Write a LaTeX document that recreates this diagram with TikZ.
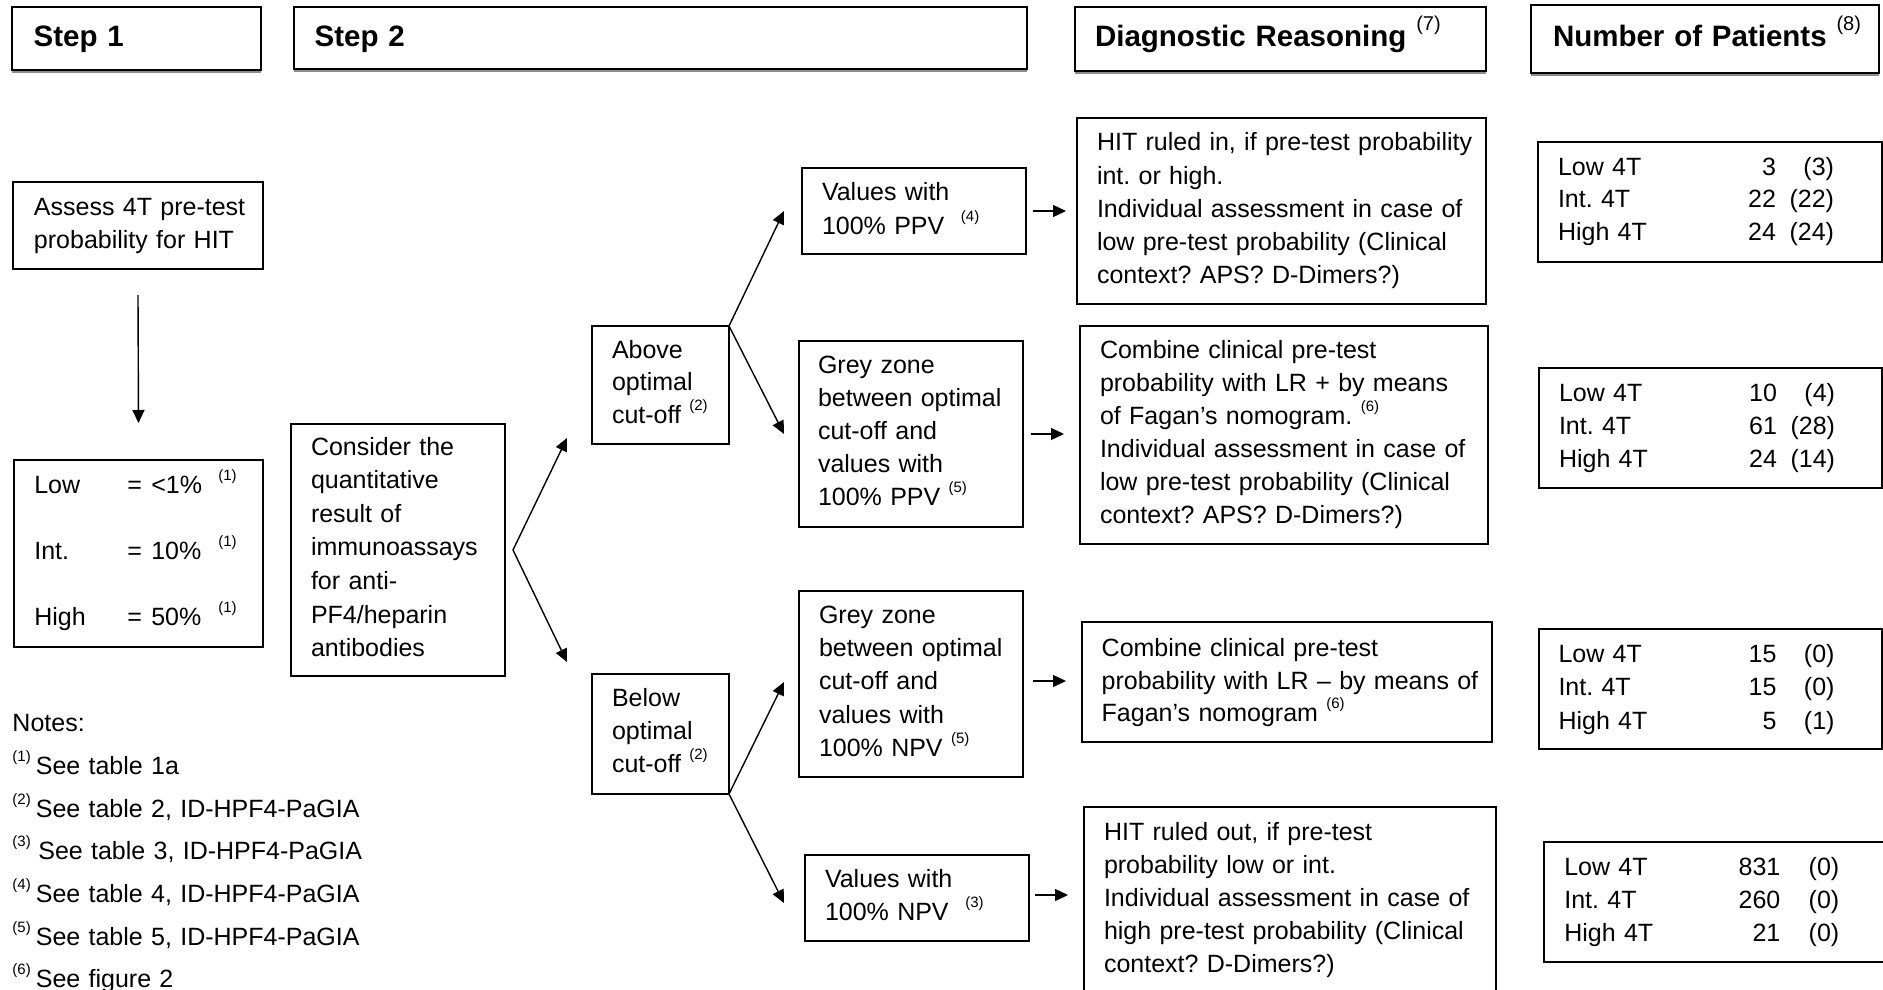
\documentclass[tikz,border=0pt]{standalone}
\usepackage{fontspec}
\setmainfont{Liberation Sans}
\usetikzlibrary{arrows.meta}
\AtBeginDocument{\frenchspacing}
\newcommand{\supn}[1]{\raisebox{13pt}{\fontsize{15}{15}\selectfont(#1)}}
\newcommand{\hsupn}[1]{\raisebox{17pt}{\mdseries\fontsize{20}{20}\selectfont(#1)}}
\newcommand{\nrow}[3]{\makebox[218pt][l]{#1}\makebox[0pt][r]{#2}\makebox[58pt][r]{#3}}
\newcommand{\nrowb}[3]{\makebox[216pt][l]{#1}\makebox[0pt][r]{#2}\makebox[59pt][r]{#3}}
\tikzset{
  box/.style={draw, line width=1.5pt, inner sep=0pt, outer sep=0pt, anchor=north west},
  hbox/.style={box, line width=1.4pt},
  shadowline/.style={line width=1.3pt, black!45},
  txt/.style={anchor=base west, inner sep=0pt, outer sep=0pt, text width=430pt, align=left,
              font=\frenchspacing\fontsize{25}{33.3}\selectfont},
  htxt/.style={txt, font=\frenchspacing\bfseries\fontsize{29.5}{35}\selectfont},
  arr/.style={line width=1.4pt, -{Triangle[length=13pt,width=12pt]}},
}
\begin{document}
\begin{tikzpicture}[x=1pt, y=-1pt]
\useasboundingbox (0,0) rectangle (1883,990);
\fill[white] (0,0) rectangle (1883,990);

% ---------- header boxes ----------
\node[hbox, minimum width=249pt, minimum height=63pt] (h1) at (12,7) {};
\node[hbox, minimum width=733pt, minimum height=62pt] (h2) at (294,7) {};
\node[hbox, minimum width=411pt, minimum height=64pt] (h3) at (1075,7) {};
\node[hbox, minimum width=348pt, minimum height=68pt] (h4) at (1531,5) {};
\foreach \h in {h1,h2,h3,h4}
  \draw[shadowline] ([yshift=-2pt]\h.south west) -- ([yshift=-2pt]\h.south east);

\node[htxt] (t1) at (33.6,47) {Step 1};
\node[htxt] (t2) at (314.7,47) {Step 2};
\node[htxt] (t3) at (1095,47) {Diagnostic Reasoning \hsupn{7}};
\node[htxt] (t4) at (1553,47) {Number of Patients \hsupn{8}};

% ---------- step 1 ----------
\node[box, minimum width=250pt, minimum height=87pt] (assess) at (13,182) {};
\node[txt] (assesst) at (34,215) {Assess 4T pre-test\\probability for HIT};

\node[box, minimum width=249pt, minimum height=187pt] (low) at (14,460) {};
\node[txt, font=\fontsize{25}{66}\selectfont] (lowt) at (34.3,493)
  {\makebox[93pt][l]{Low}\makebox[24pt][l]{=}\makebox[67pt][l]{<1\%}\supn{1}\\
   \makebox[93pt][l]{Int.}\makebox[24pt][l]{=}\makebox[67pt][l]{10\%}\supn{1}\\
   \makebox[93pt][l]{High}\makebox[24pt][l]{=}\makebox[67pt][l]{50\%}\supn{1}};

\draw[arr] ([yshift=-26pt]assess.south) -- ([yshift=37pt]low.north);

% ---------- notes ----------
\node[txt, font=\frenchspacing\fontsize{25}{42.7}\selectfont] (notes) at (12.5,731.7)
  {Notes:\\
   \supn{1}\kern5pt See table 1a\\
   \supn{2}\kern5pt See table 2, ID-HPF4-PaGIA\\
   \supn{3}\kern7.5pt See table 3, ID-HPF4-PaGIA\\
   \supn{4}\kern5pt See table 4, ID-HPF4-PaGIA\\
   \supn{5}\kern5pt See table 5, ID-HPF4-PaGIA\\
   \supn{6}\kern5pt See figure 2};

% ---------- step 2 ----------
\node[box, minimum width=214pt, minimum height=252pt] (consider) at (291,424) {};
\node[txt, font=\fontsize{25}{33.6}\selectfont] (considert) at (311,455)
  {Consider the\\quantitative\\result of\\immunoassays\\for anti-\\PF4/heparin\\antibodies};

\node[box, minimum width=137pt, minimum height=118pt] (above) at (592,326) {};
\node[txt, font=\fontsize{25}{32.5}\selectfont] (abovet) at (612,358)
  {Above\\optimal\\cut-off \supn{2}};

\node[box, minimum width=137pt, minimum height=120pt] (below) at (592,674) {};
\node[txt, font=\fontsize{25}{32.7}\selectfont] (belowt) at (612,706.7)
  {Below\\optimal\\cut-off \supn{2}};

\coordinate (cfork) at ([xshift=8pt]consider.east);
\coordinate (ctop) at ([xshift=-25pt,yshift=6pt]above.south west);
\coordinate (cbot) at ([xshift=-25pt,yshift=12pt]below.north west);
\draw[arr] (cfork) -- (ctop);
\draw[arr] (cfork) -- (cbot);

\node[box, minimum width=224pt, minimum height=86pt] (vppv) at (802,168) {};
\node[txt] (vppvt) at (822,200.7) {Values with\\100\% PPV~~\supn{4}};

\node[box, minimum width=224pt, minimum height=186pt] (gppv) at (799,341) {};
\node[txt, font=\fontsize{25}{33}\selectfont] (gppvt) at (818,373)
  {Grey zone\\between optimal\\cut-off and\\values with\\100\% PPV \supn{5}};

\node[box, minimum width=224pt, minimum height=186pt] (gnpv) at (799,591) {};
\node[txt, font=\fontsize{25}{33.4}\selectfont] (gnpvt) at (819,623)
  {Grey zone\\between optimal\\cut-off and\\values with\\100\% NPV \supn{5}};

\node[box, minimum width=224pt, minimum height=86pt] (vnpv) at (805,855) {};
\node[txt, font=\fontsize{25}{32.4}\selectfont] (vnpvt) at (825,887.7) {Values with\\100\% NPV~~\supn{3}};

\draw[arr] (above.north east) -- ([xshift=-18pt]vppv.west);
\draw[arr] (above.north east) -- ([xshift=-15pt]gppv.west);
\draw[arr] (below.south east) -- ([xshift=-15pt,yshift=2pt]gnpv.west);
\draw[arr] (below.south east) -- ([xshift=-21pt,yshift=-5pt]vnpv.west);

% ---------- diagnostic reasoning ----------
\node[box, minimum width=409pt, minimum height=186pt] (d1) at (1077,118) {};
\node[txt] (d1t) at (1097,150.7)
  {HIT ruled in, if pre-test probability\\int. or high.\\Individual assessment in case of\\low pre-test probability (Clinical\\context? APS? D-Dimers?)};

\node[box, minimum width=408pt, minimum height=218pt] (d2) at (1080,326) {};
\node[txt, font=\frenchspacing\fontsize{25}{33}\selectfont] (d2t) at (1100,358)
  {Combine clinical pre-test\\probability with LR + by means\\of Fagan’s nomogram. \supn{6}\\Individual assessment in case of\\low pre-test probability (Clinical\\context? APS? D-Dimers?)};

\node[box, minimum width=410pt, minimum height=120pt] (d3) at (1082,622) {};
\node[txt, font=\fontsize{25}{32.5}\selectfont] (d3t) at (1101.7,656.7)
  {Combine clinical pre-test\\probability with LR – by means of\\Fagan’s nomogram \supn{6}};

\node[box, minimum width=412pt, minimum height=186pt] (d4) at (1084,807) {};
\node[txt, font=\frenchspacing\fontsize{25}{33}\selectfont] (d4t) at (1104,840)
  {HIT ruled out, if pre-test\\probability low or int.\\Individual assessment in case of\\high pre-test probability (Clinical\\context? D-Dimers?)};

\draw[arr] ([xshift=7pt]vppv.east) -- ([xshift=-11pt]vppv.east -| d1.west);
\draw[arr] ([xshift=8pt]gppv.east) -- ([xshift=-16pt]gppv.east -| d2.west);
\draw[arr] ([xshift=10pt,yshift=3pt]gnpv.east) -- ([xshift=-16pt,yshift=3pt]gnpv.east -| d3.west);
\draw[arr] ([xshift=6pt,yshift=3pt]vnpv.east) -- ([xshift=-16pt,yshift=3pt]vnpv.east -| d4.west);

% ---------- number of patients ----------
\node[box, minimum width=344pt, minimum height=120pt] (n1) at (1538,142) {};
\node[txt, font=\fontsize{25}{32.8}\selectfont] (n1t) at (1558,175)
  {\nrow{Low 4T}{3}{(3)}\\\nrow{Int. 4T}{22}{(22)}\\\nrow{High 4T}{24}{(24)}};

\node[box, minimum width=343pt, minimum height=120pt] (n2) at (1539,368) {};
\node[txt, font=\fontsize{25}{33.3}\selectfont] (n2t) at (1559,401)
  {\nrow{Low 4T}{10}{(4)}\\\nrow{Int. 4T}{61}{(28)}\\\nrow{High 4T}{24}{(14)}};

\node[box, minimum width=343pt, minimum height=120pt] (n3) at (1539,629) {};
\node[txt, font=\fontsize{25}{33.5}\selectfont] (n3t) at (1558.5,662)
  {\nrow{Low 4T}{15}{(0)}\\\nrow{Int. 4T}{15}{(0)}\\\nrow{High 4T}{5}{(1)}};

\node[box, minimum width=342pt, minimum height=120pt] (n4) at (1544,842) {};
\node[txt, font=\fontsize{25}{33.4}\selectfont] (n4t) at (1564.3,875)
  {\nrowb{Low 4T}{831}{(0)}\\\nrowb{Int. 4T}{260}{(0)}\\\nrowb{High 4T}{21}{(0)}};
\end{tikzpicture}
\end{document}
